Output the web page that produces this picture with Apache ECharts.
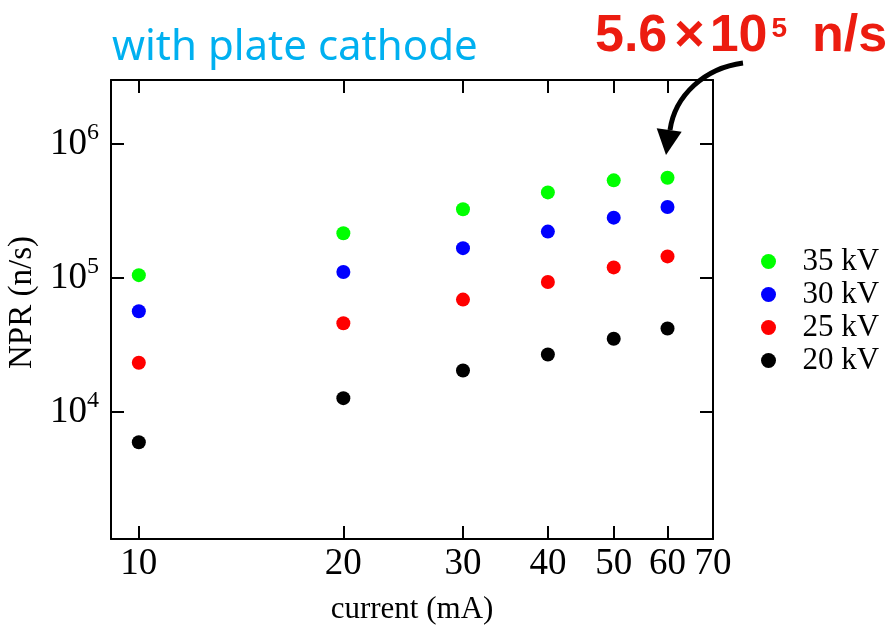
<!DOCTYPE html>
<html>
<head>
<meta charset="utf-8">
<script src="https://cdn.jsdelivr.net/npm/echarts@6/dist/echarts.min.js"></script>
<style>
  html, body { margin: 0; padding: 0; background: #fff; }
  #chart { width: 894px; height: 627px; }
</style>
</head>
<body>
<div id="chart"></div>
<script>
// Neutron production rate versus discharge current, one series per voltage
const currents = [10, 20, 30, 40, 50, 60];
const npr35kV = [1.05e5, 2.16e5, 3.26e5, 4.35e5, 5.35e5, 5.6e5];
const npr30kV = [5.65e4, 1.11e5, 1.67e5, 2.22e5, 2.82e5, 3.39e5];
const npr25kV = [2.33e4, 4.6e4, 6.9e4, 9.34e4, 1.2e5, 1.45e5];
const npr20kV = [5.96e3, 1.27e4, 2.04e4, 2.69e4, 3.52e4, 4.2e4];

const seriesNames = ['35 kV', '30 kV', '25 kV', '20 kV'];
const seriesColors = ['#00ff00', '#0000ff', '#ff0000', '#000000'];
const seriesValues = [npr35kV, npr30kV, npr25kV, npr20kV];

const xTicks = [10, 20, 30, 40, 50, 60, 70];
const yTicks = [1e4, 1e5, 1e6];
const xRange = [9.1, 70];
const yRange = [1.13e3, 3e6];

// highlighted value: 35 kV at 60 mA
const peakValue = npr35kV[npr35kV.length - 1];
const peakExp = Math.floor(Math.log10(peakValue));
const peakMantissa = (peakValue / Math.pow(10, peakExp)).toFixed(1);

const serif = 'Liberation Serif';
const axisLineStyle = { color: '#000', width: 2 };

function frameAxis(position, range, ticks, showLabels, extra) {
  return Object.assign({
    type: 'log',
    logBase: 10,
    position: position,
    min: range[0],
    max: range[1],
    axisLine: { show: true, lineStyle: axisLineStyle },
    axisTick: { show: true, inside: true, length: 13, lineStyle: { color: '#000', width: 2 }, customValues: ticks },
    axisLabel: { show: showLabels, customValues: ticks },
    splitLine: { show: false },
    minorTick: { show: false },
    minorSplitLine: { show: false }
  }, extra || {});
}

const chart = echarts.init(document.getElementById('chart'), null, { renderer: 'canvas' });

chart.setOption({
  animation: false,
  backgroundColor: '#fff',
  title: {
    text: 'with plate cathode',
    left: 112,
    top: 27,
    padding: 0,
    textStyle: { fontFamily: 'Noto Sans', fontSize: 42, fontWeight: 'normal', color: '#00b0f0' }
  },
  grid: { left: 111, right: 181, top: 80, bottom: 88, containLabel: false, outerBoundsMode: 'none' },
  legend: {
    orient: 'vertical',
    left: 756,
    top: 241,
    icon: 'circle',
    itemWidth: 58,
    itemHeight: 15,
    itemGap: 2,
    data: seriesNames,
    textStyle: { fontFamily: serif, fontSize: 31, color: '#000', lineHeight: 30 }
  },
  xAxis: [
    frameAxis('bottom', xRange, xTicks, true, {
      name: 'current (mA)',
      nameLocation: 'middle',
      nameGap: 55,
      nameTextStyle: { fontFamily: serif, fontSize: 31, color: '#000' },
      axisLabel: {
        show: true,
        customValues: xTicks,
        margin: 7,
        fontFamily: serif,
        fontSize: 37,
        color: '#000',
        formatter: (v) => String(Math.round(v))
      }
    }),
    frameAxis('top', xRange, xTicks, false)
  ],
  yAxis: [
    frameAxis('left', yRange, yTicks, true, {
      name: 'NPR (n/s)',
      nameLocation: 'middle',
      nameGap: 64,
      nameRotate: 90,
      nameTextStyle: { fontFamily: serif, fontSize: 33, color: '#000', padding: [0, 0, 0, 14] },
      axisLabel: {
        show: true,
        customValues: yTicks,
        margin: 12,
        color: '#000',
        formatter: (v) => '{b|10}{s|' + Math.round(Math.log10(v)) + '}',
        rich: {
          b: { fontFamily: serif, fontSize: 37, lineHeight: 46, color: '#000' },
          s: { fontFamily: serif, fontSize: 24, lineHeight: 16, verticalAlign: 'top', color: '#000' }
        }
      }
    }),
    frameAxis('right', yRange, yTicks, false)
  ],
  series: seriesNames.map((name, i) => ({
    name: name,
    type: 'scatter',
    symbol: 'circle',
    symbolSize: 14,
    itemStyle: { color: seriesColors[i], opacity: 1 },
    emphasis: { disabled: true },
    data: currents.map((c, j) => [c, seriesValues[i][j]])
  })),
  graphic: [
    {
      type: 'text',
      left: 595,
      top: 11,
      style: {
        text: '{m|' + peakMantissa + '}{x|\u00d7}{m|10}{e|' + peakExp + '}{u|n/s}',
        rich: {
          m: { fontFamily: 'Liberation Sans', fontWeight: 'bold', fontSize: 52, lineHeight: 52, fill: '#ec1c10' },
          x: { fontFamily: 'Liberation Sans', fontWeight: 'bold', fontSize: 52, lineHeight: 52, fill: '#ec1c10', padding: [0, 5, 0, 7] },
          e: { fontFamily: 'Liberation Sans', fontWeight: 'bold', fontSize: 28, lineHeight: 36, verticalAlign: 'top', fill: '#ec1c10', padding: [4, 0, 0, 4] },
          u: { fontFamily: 'Liberation Sans', fontWeight: 'bold', fontSize: 52, lineHeight: 52, fill: '#ec1c10', padding: [0, 0, 0, 25] }
        }
      }
    },
    {
      type: 'bezierCurve',
      shape: { x1: 743, y1: 63, cpx1: 705, cpy1: 68, cpx2: 675, cpy2: 95, x2: 670, y2: 130 },
      style: { stroke: '#000', lineWidth: 5, fill: null }
    },
    {
      type: 'polygon',
      shape: { points: [[656.7, 128.3], [681.7, 131.7], [666, 155]] },
      style: { fill: '#000' }
    }
  ]
});
</script>
</body>
</html>
